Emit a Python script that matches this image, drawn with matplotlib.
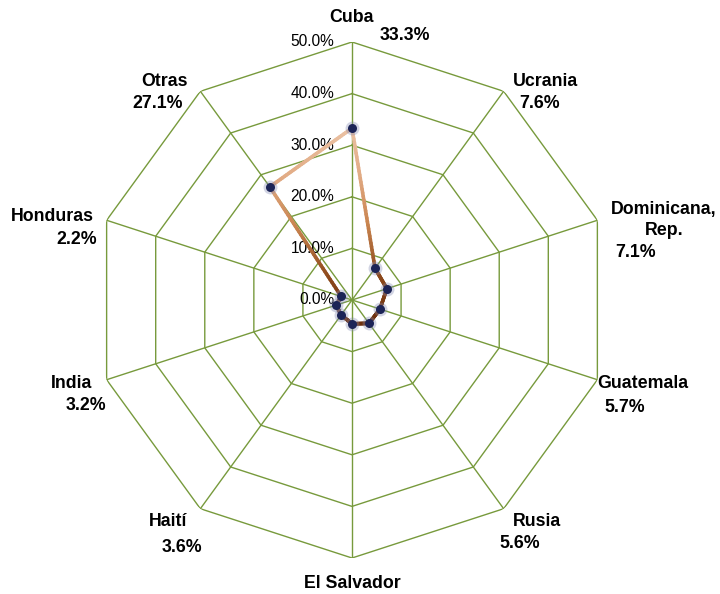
import numpy as np
import matplotlib
matplotlib.use("Agg")
import matplotlib.pyplot as plt
from matplotlib.collections import LineCollection
from matplotlib.colors import LinearSegmentedColormap
import matplotlib.transforms as mtransforms

plt.rcParams['font.family'] = ['Liberation Sans', 'DejaVu Sans']

# data
countries = ["Cuba", "Ucrania", "Dominicana,\nRep.", "Guatemala", "Rusia",
             "El Salvador", "Haití", "India", "Honduras", "Otras"]
shares = [33.3, 7.6, 7.1, 5.7, 5.6, 4.6, 3.6, 3.2, 2.2, 27.1]
share_labels = ["33.3%", "7.6%", "7.1%", "5.7%", "5.6%", "", "3.6%", "3.2%", "2.2%", "27.1%"]
rings = [0, 10, 20, 30, 40, 50]
ring_labels = ["0.0%", "10.0%", "20.0%", "30.0%", "40.0%", "50.0%"]

# label placement (figure pixels, from top-left): name, value
name_pos = [(352, 17), (545, 81), (664, 220), (643, 384), (537, 521),
            (352, 583), (168, 521), (72, 384), (52, 217), (165, 81)]
val_pos = [(405, 35), (540, 104), (636, 252), (625, 407), (520, 543),
           (352, 600), (182, 547), (86, 406), (77, 240), (158, 104)]

W, H = 720, 594
fig = plt.figure(figsize=(W / 100, H / 100), dpi=100)
cx, cy, R = 352, 300, 258
ax = fig.add_axes([(cx - R) / W, (H - cy - R) / H, 2 * R / W, 2 * R / H], polar=True)
ax.set_theta_offset(np.pi / 2)
ax.set_theta_direction(-1)
ax.set_ylim(0, 50)
ax.grid(False)
ax.spines['polar'].set_visible(False)
ax.set_xticks([])
ax.set_yticks([])

n = len(countries)
theta = np.arange(n) * 2 * np.pi / n
grid_col = '#779A3C'

# polygon rings and spokes
th_closed = np.append(theta, theta[0])
for r in rings[1:]:
    ax.plot(th_closed, [r] * (n + 1), color=grid_col, lw=1.0, zorder=1)
for t in theta:
    ax.plot([t, t], [0, 50], color=grid_col, lw=1.0, zorder=1)

# radial tick labels
off = mtransforms.offset_copy(ax.transData, fig=fig, x=-18, y=0, units='dots')
for r, lab in zip(rings, ring_labels):
    ax.text(0, r, lab, transform=off, ha='right', va='center', fontsize=11.2)

# gradient line (color by vertical position)
vals = np.array(shares)
x = vals * np.sin(theta)
y = vals * np.cos(theta)
xc = np.append(x, x[0])
yc = np.append(y, y[0])
segs, ys = [], []
for i in range(n):
    s = np.linspace(0, 1, 40)
    px = xc[i] + (xc[i + 1] - xc[i]) * s
    py = yc[i] + (yc[i + 1] - yc[i]) * s
    pt = np.arctan2(px, py)
    pr = np.hypot(px, py)
    for k in range(len(s) - 1):
        segs.append([(pt[k], pr[k]), (pt[k + 1], pr[k + 1])])
        ys.append((py[k] + py[k + 1]) / 2)
cmap = LinearSegmentedColormap.from_list('brown', ['#6B2E0C', '#8E4A1C', '#C9844F', '#E2AC86', '#EBC3A5'])
lc = LineCollection(segs, cmap=cmap, linewidths=2.6, capstyle='round', zorder=3)
lc.set_array(np.array(ys))
lc.set_clim(-5, 34)
ax.add_collection(lc)

# markers with glow
ax.plot(theta, vals, 'o', ms=10, color='#7F86B0', alpha=0.35, mec='none', zorder=4)
ax.plot(theta, vals, 'o', ms=6.5, color='#1C2457', mec='none', zorder=5)

# category and value labels
for i in range(n):
    nx, ny = name_pos[i]
    fig.text(nx / W, 1 - ny / H, countries[i], ha='center', va='center',
             fontsize=12.8, fontweight='bold', linespacing=1.25)
    if share_labels[i]:
        vx, vy = val_pos[i]
        fig.text(vx / W, 1 - vy / H, share_labels[i], ha='center', va='center',
                 fontsize=12.8, fontweight='bold')

fig.savefig("out.png", dpi=100)
